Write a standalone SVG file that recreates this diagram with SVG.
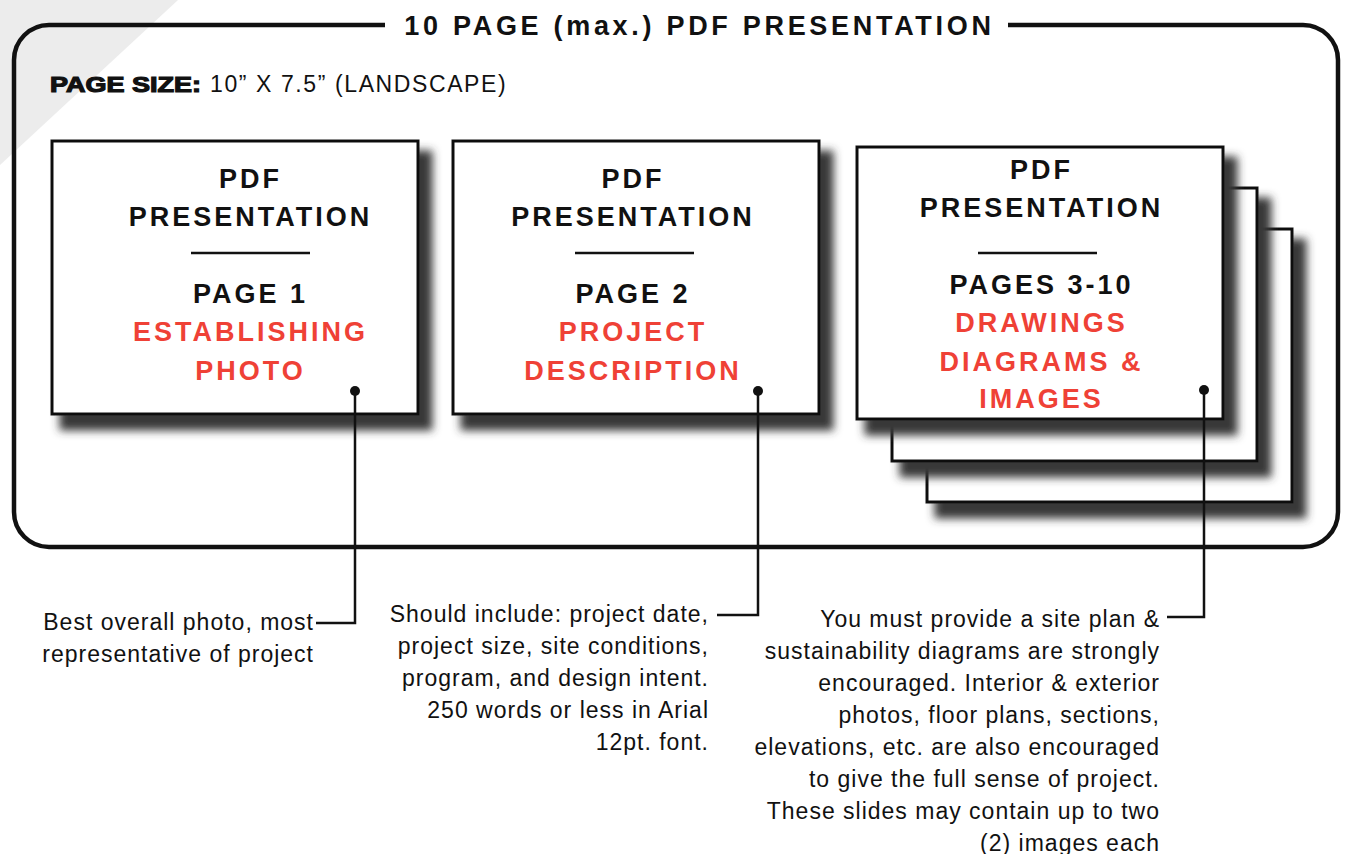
<svg xmlns="http://www.w3.org/2000/svg" width="1346" height="854" viewBox="0 0 1346 854">
<defs>
<filter id="sh" x="-10%" y="-10%" width="135%" height="145%">
<feMorphology in="SourceAlpha" operator="dilate" radius="2" result="d"/>
<feOffset in="d" dx="11" dy="13" result="o"/>
<feGaussianBlur in="o" stdDeviation="4.5" result="b"/>
<feFlood flood-color="#383838" flood-opacity="1"/>
<feComposite in2="b" operator="in" result="s"/>
<feMerge><feMergeNode in="s"/><feMergeNode in="SourceGraphic"/></feMerge>
</filter>
<style>
.page{fill:#fff;stroke:#111;stroke-width:3}
.bt{font-family:"Liberation Sans",Arial,sans-serif;font-weight:bold;font-size:27px;letter-spacing:3px;text-anchor:middle;fill:#111}
.red{fill:#ef4136}
.div{stroke:#111;stroke-width:2.5}
.ann{font-family:"Liberation Sans",Arial,sans-serif;font-size:23px;letter-spacing:1px;text-anchor:end;fill:#111}
.con{fill:none;stroke:#111;stroke-width:2.5}
.dot{fill:#111}
</style>
</defs>
<rect width="1346" height="854" fill="#fff"/>
<polygon points="0,0 178,0 0,165" fill="#ececec"/>

<g id="frame">
<path d="M385,25 H49 A35,35 0 0 0 14,60 V512 A35,35 0 0 0 49,547 H1303 A35,35 0 0 0 1338,512 V60 A35,35 0 0 0 1303,25 H1008" fill="none" stroke="#111" stroke-width="4.5"/>
<text x="699.5" y="35" font-family="Liberation Sans, Arial, sans-serif" font-weight="bold" font-size="27" letter-spacing="3.7" text-anchor="middle" fill="#111">10 PAGE (max.) PDF PRESENTATION</text>
<text x="50" y="92" font-family="Liberation Sans, Arial, sans-serif" font-weight="bold" font-size="22" stroke="#111" stroke-width="1.2" fill="#111" textLength="151" lengthAdjust="spacingAndGlyphs">PAGE SIZE:</text>
<text x="210" y="92" font-family="Liberation Sans, Arial, sans-serif" font-size="23" letter-spacing="1.6" fill="#111">10” X 7.5” (LANDSCAPE)</text>
</g>

<g id="page1">
<rect class="page" x="52" y="141" width="366" height="273" filter="url(#sh)"/>
<text class="bt" x="250.5" y="188">PDF</text>
<text class="bt" x="250.5" y="226">PRESENTATION</text>
<line class="div" x1="191" y1="253" x2="310" y2="253"/>
<text class="bt" x="250.5" y="303">PAGE 1</text>
<text class="bt red" x="250.5" y="341">ESTABLISHING</text>
<text class="bt red" x="250.5" y="380">PHOTO</text>
</g>

<g id="page2">
<rect class="page" x="453" y="141" width="366" height="273" filter="url(#sh)"/>
<text class="bt" x="633" y="188">PDF</text>
<text class="bt" x="633" y="226">PRESENTATION</text>
<line class="div" x1="575" y1="253" x2="694" y2="253"/>
<text class="bt" x="633" y="303">PAGE 2</text>
<text class="bt red" x="633" y="341">PROJECT</text>
<text class="bt red" x="633" y="380">DESCRIPTION</text>
</g>

<g id="pages3-10">
<rect class="page" x="927" y="229" width="365" height="273" filter="url(#sh)"/>
<rect class="page" x="892" y="188" width="365" height="273" filter="url(#sh)"/>
<rect class="page" x="857" y="147" width="366" height="272" filter="url(#sh)"/>
<text class="bt" x="1041.5" y="179">PDF</text>
<text class="bt" x="1041.5" y="217">PRESENTATION</text>
<line class="div" x1="978" y1="253" x2="1097" y2="253"/>
<text class="bt" x="1041.5" y="294">PAGES 3-10</text>
<text class="bt red" x="1041.5" y="332">DRAWINGS</text>
<text class="bt red" x="1041.5" y="371">DIAGRAMS &amp;</text>
<text class="bt red" x="1041.5" y="408">IMAGES</text>
</g>

<g id="connectors">
<circle class="dot" cx="355" cy="391" r="5"/>
<path class="con" d="M355,391 V623 H316"/>
<circle class="dot" cx="758" cy="391" r="5"/>
<path class="con" d="M758,391 V615 H717"/>
<circle class="dot" cx="1204" cy="390" r="5"/>
<path class="con" d="M1204,390 V617 H1167"/>
</g>

<g id="note1">
<text class="ann" x="314" y="630">Best overall photo, most</text>
<text class="ann" x="314" y="662">representative of project</text>
</g>

<g id="note2">
<text class="ann" x="709" y="622">Should include: project date,</text>
<text class="ann" x="709" y="654">project size, site conditions,</text>
<text class="ann" x="709" y="686">program, and design intent.</text>
<text class="ann" x="709" y="718">250 words or less in Arial</text>
<text class="ann" x="709" y="750">12pt. font.</text>
</g>

<g id="note3">
<text class="ann" x="1160" y="627">You must provide a site plan &amp;</text>
<text class="ann" x="1160" y="659">sustainability diagrams are strongly</text>
<text class="ann" x="1160" y="691">encouraged. Interior &amp; exterior</text>
<text class="ann" x="1160" y="723">photos, floor plans, sections,</text>
<text class="ann" x="1160" y="755">elevations, etc. are also encouraged</text>
<text class="ann" x="1160" y="787">to give the full sense of project.</text>
<text class="ann" x="1160" y="819">These slides may contain up to two</text>
<text class="ann" x="1160" y="851">(2) images each</text>
</g>
</svg>
